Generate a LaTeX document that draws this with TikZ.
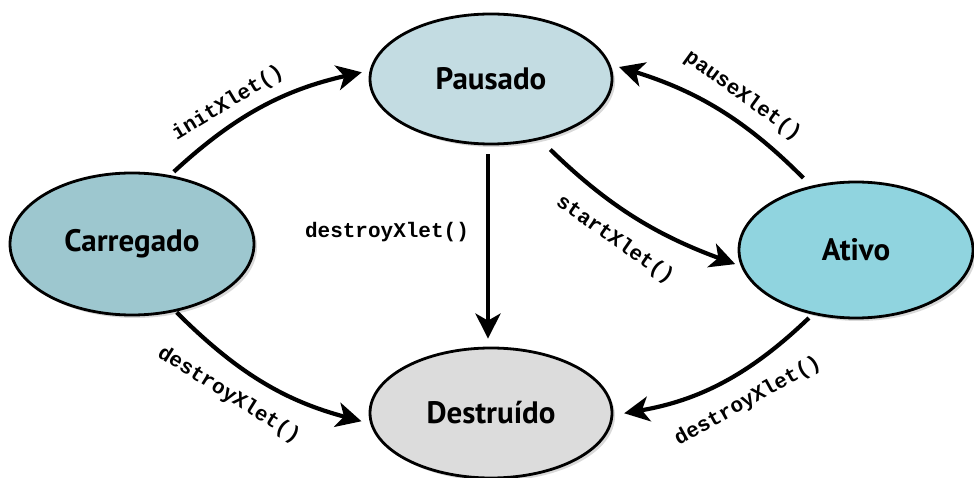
\documentclass[tikz,border=0pt]{standalone}
\usepackage{fontspec}
\setmainfont{PT Sans}
\newfontfamily\monofont{Liberation Mono}
\usetikzlibrary{shapes.geometric,arrows.meta,shadows}
\definecolor{pauC}{HTML}{C3DCE2}
\definecolor{carC}{HTML}{9DC7CF}
\definecolor{ativC}{HTML}{90D4DF}
\definecolor{desC}{HTML}{DCDCDC}
\begin{document}
\begin{tikzpicture}[x=1pt,y=1pt,
  state/.style={ellipse, draw=black, line width=2.8pt, inner sep=0pt,
    font=\fontsize{31}{34}\selectfont\bfseries,
    drop shadow={shadow xshift=3pt, shadow yshift=-3pt, opacity=0.3, fill=gray}},
  trans/.style={line width=4.2pt, -{Stealth[length=25pt,width=25pt,inset=7pt]}},
  lbl/.style={font=\monofont\bfseries\fontsize{21}{24}\selectfont, inner sep=0pt}]
\useasboundingbox (0,0) rectangle (974,477);
\node[state, fill=pauC, minimum width=242pt, minimum height=130pt] (pau) at (491,398) {Pausado};
\node[state, fill=carC, minimum width=244pt, minimum height=142pt] (car) at (132,233) {Carregado};
\node[state, fill=ativC, minimum width=234pt, minimum height=136pt] (ativ) at (856,227) {Ativo};
\node[state, fill=desC, minimum width=242pt, minimum height=130pt] (des) at (491,64) {Destruído};

\draw[trans, shorten <=5pt, shorten >=8pt] (car.61.6) to[bend left=15] (pau.176.9);
\draw[trans, shorten <=11pt, shorten >=9pt] (ativ.125.8) to[bend right=14] (pau.7.6);
\draw[trans, shorten <=14pt, shorten >=6pt] (pau.-51.7) to[bend right=12] (ativ.188.1);
\draw[trans, shorten <=9pt, shorten >=8pt] ([xshift=-3pt]pau.south) -- ([xshift=-3pt]des.north);
\draw[trans, shorten <=1pt, shorten >=9pt] (car.-57.5) to[bend right=15] (des.185.8);
\draw[trans, shorten <=5pt, shorten >=11pt] (ativ.236.5) to[bend left=17] (des.-1.7);

\node[lbl, rotate=31] (l1) at (228,374) {initXlet()};
\node[lbl, rotate=-36] (l2) at (743,381) {pauseXlet()};
\node[lbl, rotate=-35] (l3) at (615,237) {startXlet()};
\node[lbl] (l4) at (387,245) {destroyXlet()};
\node[lbl, rotate=-32] (l5) at (229,82) {destroyXlet()};
\node[lbl, rotate=29] (l6) at (748,76) {destroyXlet()};
\end{tikzpicture}
\end{document}
